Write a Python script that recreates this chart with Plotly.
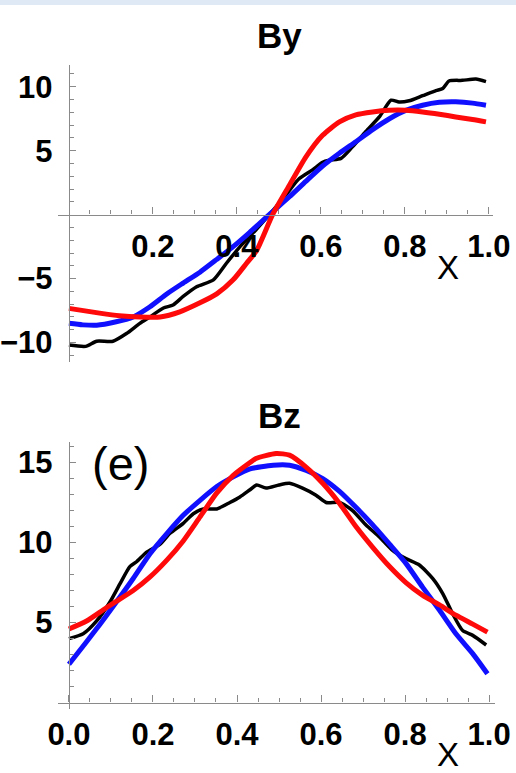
import plotly.graph_objects as go

# ---------------- data ----------------
by_black_x = [0.0, 0.04, 0.066, 0.105, 0.137, 0.169, 0.193, 0.225, 0.248, 0.272, 0.304, 0.344, 0.375,
              0.41, 0.445, 0.477, 0.493, 0.525, 0.548, 0.58, 0.604, 0.62, 0.648, 0.675, 0.707, 0.739,
              0.767, 0.786, 0.81, 0.842, 0.874, 0.89, 0.905, 0.937, 0.969, 0.993]
by_black_y = [-10.2, -10.3, -9.9, -9.9, -9.3, -8.5, -8.0, -7.3, -7.07, -6.4, -5.64, -5.1, -3.8,
              -2.4, -1.2, 0.0, 0.6, 1.9, 2.8, 3.5, 4.1, 4.26, 4.4, 5.3, 6.5, 7.64,
              8.95, 8.8, 8.9, 9.3, 9.7, 9.86, 10.45, 10.5, 10.6, 10.4]

by_blue_x = [0.0, 0.033, 0.066, 0.11, 0.153, 0.193, 0.233, 0.272, 0.312, 0.352, 0.391, 0.43, 0.477,
             0.525, 0.564, 0.604, 0.644, 0.683, 0.723, 0.763, 0.802, 0.842, 0.882, 0.921, 0.961, 0.993]
by_blue_y = [-8.5, -8.62, -8.65, -8.4, -8.0, -7.2, -6.2, -5.35, -4.5, -3.5, -2.5, -1.4, 0.0,
             1.4, 2.6, 3.8, 4.8, 5.7, 6.65, 7.5, 8.15, 8.55, 8.78, 8.82, 8.72, 8.55]

by_red_x = [0.0, 0.073, 0.12, 0.169, 0.217, 0.264, 0.312, 0.352, 0.391, 0.423, 0.447, 0.485,
            0.525, 0.564, 0.604, 0.644, 0.683, 0.723, 0.763, 0.802, 0.842, 0.882, 0.921, 0.961, 0.993]
by_red_y = [-7.33, -7.7, -7.9, -8.0, -8.0, -7.6, -6.9, -6.2, -5.1, -3.8, -2.8, 0.0,
            2.3, 4.5, 6.2, 7.25, 7.8, 8.03, 8.16, 8.16, 8.03, 7.85, 7.64, 7.44, 7.25]

bz_black_x = [0.0, 0.034, 0.066, 0.098, 0.121, 0.145, 0.161, 0.185, 0.217, 0.24, 0.272, 0.296, 0.32,
              0.352, 0.383, 0.407, 0.431, 0.447, 0.469, 0.5, 0.525, 0.556, 0.588, 0.612, 0.644, 0.675,
              0.707, 0.739, 0.771, 0.802, 0.834, 0.866, 0.89, 0.913, 0.937, 0.961, 0.993]
bz_black_y = [4.0, 4.3, 5.1, 6.3, 7.4, 8.5, 8.8, 9.4, 9.9, 10.56, 11.2, 11.8, 12.1,
              12.1, 12.5, 12.85, 13.3, 13.6, 13.4, 13.6, 13.7, 13.4, 12.96, 12.5, 12.5, 12.0,
              11.1, 10.35, 9.5, 9.0, 8.6, 7.75, 6.8, 5.56, 4.5, 4.2, 3.6]

bz_blue_x = [0.0, 0.042, 0.074, 0.105, 0.153, 0.193, 0.233, 0.272, 0.312, 0.352, 0.391, 0.431, 0.486,
             0.525, 0.565, 0.604, 0.644, 0.683, 0.723, 0.763, 0.802, 0.842, 0.882, 0.921, 0.961, 0.996]
bz_blue_y = [2.4, 3.8, 4.9, 6.0, 7.75, 9.3, 10.56, 11.7, 12.64, 13.5, 14.1, 14.6, 14.83,
             14.83, 14.5, 14.0, 13.2, 12.2, 11.1, 9.9, 8.7, 7.2, 5.77, 4.3, 3.06, 1.8]

bz_red_x = [0.0, 0.042, 0.082, 0.105, 0.153, 0.193, 0.233, 0.272, 0.312, 0.352, 0.391, 0.431, 0.445,
            0.493, 0.525, 0.565, 0.604, 0.644, 0.683, 0.723, 0.763, 0.802, 0.842, 0.882, 0.921, 0.961, 0.996]
bz_red_y = [4.6, 5.1, 5.8, 6.2, 7.0, 7.85, 8.9, 10.1, 11.6, 13.1, 14.2, 15.0, 15.25,
            15.56, 15.46, 14.7, 13.7, 12.44, 11.0, 9.7, 8.5, 7.5, 6.7, 6.1, 5.46, 4.9, 4.4]

by_xticks = [0.2, 0.4, 0.6, 0.8, 1.0]
bz_xticks = [0.0, 0.2, 0.4, 0.6, 0.8, 1.0]
by_yticks = [-10, -5, 5, 10]
bz_yticks = [5, 10, 15]

# ---------------- layout helpers ----------------
W, H = 516, 773
def fx(px):
    return px / W
def fy(py):
    return 1 - py / H

def axis_pos(dom, rng, v=0.0):
    return dom[0] + (v - rng[0]) / (rng[1] - rng[0]) * (dom[1] - dom[0])

AX = "#8a8a8a"
TICKFONT = dict(family="Liberation Sans", size=31, color="black", weight="bold")

fig = go.Figure()
for xs, ys, col, w, xa, ya in [
    (by_black_x, by_black_y, "black", 3.5, "x", "y"),
    (by_blue_x, by_blue_y, "#1010ff", 5, "x", "y"),
    (by_red_x, by_red_y, "#ff0a0a", 5, "x", "y"),
    (bz_black_x, bz_black_y, "black", 3.5, "x2", "y2"),
    (bz_blue_x, bz_blue_y, "#1010ff", 5, "x2", "y2"),
    (bz_red_x, bz_red_y, "#ff0a0a", 5, "x2", "y2"),
]:
    fig.add_trace(go.Scatter(x=xs, y=ys, mode="lines", xaxis=xa, yaxis=ya,
                             line=dict(color=col, width=w, shape="spline", smoothing=0.6),
                             showlegend=False, hoverinfo="skip"))

# top panel geometry
x1dom = [fx(58), fx(492.7)]
x1rng = [-0.026, 1.009]
y1dom = [fy(361.7), fy(65)]
y1rng = [-11.5, 11.7]
# bottom panel geometry
x2dom = [fx(58), fx(495)]
x2rng = [-0.026, 1.014]
y2dom = [fy(709), fy(441.7)]
y2rng = [-0.4, 16.3]

def minor_list(lo, hi, step, majors):
    out = []
    v = lo
    while v <= hi + 1e-9:
        if all(abs(v - m) > 1e-6 for m in majors):
            out.append(round(v, 4))
        v += step
    return out

def xaxis_cfg(dom, rng, ticks, ypos, minors):
    return dict(domain=dom, range=rng, anchor="free", position=ypos, automargin=False,
                showline=True, linecolor=AX, linewidth=1.4, zeroline=False, showgrid=False,
                tickmode="array", tickvals=ticks, ticktext=[f"{t:.1f}" for t in ticks],
                ticks="inside", ticklen=7, tickwidth=1.2, tickcolor=AX,
                tickfont=TICKFONT, ticklabelstandoff=4,
                minor=dict(tickmode="array", tickvals=minors, ticks="inside", ticklen=4,
                           tickwidth=1.2, tickcolor=AX, showgrid=False))

def yaxis_cfg(dom, rng, ticks, xpos, minors):
    return dict(domain=dom, range=rng, anchor="free", position=xpos, automargin=False,
                showline=True, linecolor=AX, linewidth=1.4, zeroline=False, showgrid=False,
                tickmode="array", tickvals=ticks,
                ticktext=[(str(t) if t >= 0 else "\u2212" + str(-t)) for t in ticks],
                ticks="inside", ticklen=6, tickwidth=1.2, tickcolor=AX,
                tickfont=TICKFONT, ticklabelstandoff=10,
                minor=dict(tickmode="array", tickvals=minors, ticks="inside", ticklen=3.5,
                           tickwidth=1.2, tickcolor=AX, showgrid=False))

fig.update_layout(
    width=W, height=H, autosize=False,
    margin=dict(l=0, r=0, t=0, b=0, autoexpand=False),
    paper_bgcolor="white", plot_bgcolor="white",
    xaxis=xaxis_cfg(x1dom, x1rng, by_xticks, axis_pos(y1dom, y1rng),
                    minor_list(0.05, 1.0, 0.05, by_xticks)),
    yaxis=yaxis_cfg(y1dom, y1rng, by_yticks, axis_pos(x1dom, x1rng),
                    minor_list(-11, 11, 1, by_yticks + [0])),
    xaxis2=xaxis_cfg(x2dom, x2rng, bz_xticks, axis_pos(y2dom, y2rng),
                     minor_list(0.05, 1.0, 0.05, bz_xticks)),
    yaxis2=yaxis_cfg(y2dom, y2rng, bz_yticks, axis_pos(x2dom, x2rng),
                     minor_list(1, 16, 1, bz_yticks)),
)

ann = []
ann.append(dict(text="By", x=fx(279), y=fy(36), xref="paper", yref="paper", showarrow=False,
                xanchor="center", yanchor="middle",
                font=dict(family="Liberation Sans", size=35, color="black", weight="bold")))
ann.append(dict(text="Bz", x=fx(279), y=fy(416), xref="paper", yref="paper", showarrow=False,
                xanchor="center", yanchor="middle",
                font=dict(family="Liberation Sans", size=35, color="black", weight="bold")))
for yy in (268, 754):
    ann.append(dict(text="X", x=fx(448), y=fy(yy), xref="paper", yref="paper", showarrow=False,
                    xanchor="center", yanchor="middle",
                    font=dict(family="Liberation Sans", size=33, color="black")))
ann.append(dict(text="(e)", x=fx(120), y=fy(463), xref="paper", yref="paper", showarrow=False,
                xanchor="center", yanchor="middle",
                font=dict(family="Liberation Sans", size=47, color="black")))
fig.update_layout(annotations=ann)

# light-blue strip at the very top of the screenshot
fig.add_shape(type="rect", xref="paper", yref="paper", x0=0, x1=1, y0=fy(5), y1=1,
              fillcolor="#dfe9f6", line=dict(width=0), layer="below")

fig.write_html("out.html")
